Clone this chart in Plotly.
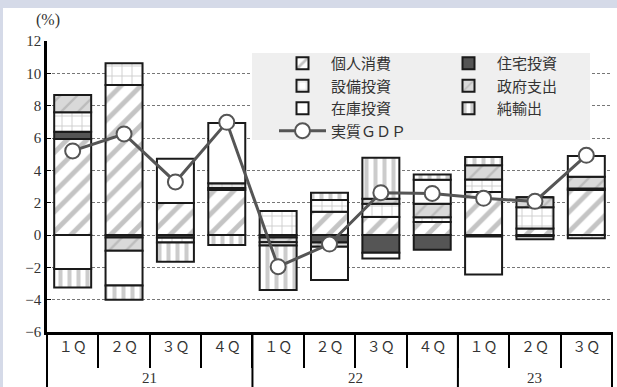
import plotly.graph_objects as go

# ---- data ----
years = ["21", "21", "21", "21", "22", "22", "22", "22", "23", "23", "23"]
quarters = ["１Ｑ", "２Ｑ", "３Ｑ", "４Ｑ", "１Ｑ", "２Ｑ", "３Ｑ", "４Ｑ", "１Ｑ", "２Ｑ", "３Ｑ"]
year_labels = ["21", "22", "23"]

consumption = [5.94, 9.28, 1.98, 2.78, 0.0, 1.44, 1.11, 0.80, 2.66, 0.40, 2.78]   # 個人消費
housing     = [0.45, -0.15, -0.17, 0.12, -0.15, -0.47, -1.10, -0.92, -0.10, -0.08, 0.10]  # 住宅投資
capex       = [1.20, 1.34, -0.30, 0.30, 1.48, 0.72, 0.83, 0.30, 0.78, 1.32, -0.20]  # 設備投資
government  = [1.07, -0.82, 0.0, 0.0, -0.30, -0.25, 0.31, 0.83, 0.87, 0.62, 0.72]   # 政府支出
inventory   = [-2.10, -2.16, 2.74, 3.73, -0.20, -2.06, -0.36, 1.48, -2.35, -0.19, 1.28]  # 在庫投資
net_exports = [-1.15, -0.87, -1.18, -0.62, -2.75, 0.45, 2.53, 0.33, 0.52, 0.0, 0.0]  # 純輸出
real_gdp    = [5.20, 6.25, 3.28, 6.97, -1.96, -0.56, 2.62, 2.57, 2.27, 2.08, 4.93]  # 実質GDP

# unique category keys (year + quarter); shown as quarter labels on the axis
x = [f"{y}-{q}" for y, q in zip(years, quarters)]
n = len(x)

OUT = "#1a1a1a"
fig = go.Figure()

def add_bar(name, vals, bg, shape, fg, size, solidity, legend):
    fig.add_trace(go.Bar(
        x=x, y=vals, name=name, legend=legend,
        marker=dict(color=bg, line=dict(color=OUT, width=2),
                    pattern=dict(shape=shape, fgcolor=fg, bgcolor=bg,
                                 size=size, solidity=solidity)),
        hoverinfo="skip",
    ))

add_bar("個人消費", consumption, "#ffffff", "/", "#8a8a8a", 14, 0.35, "legend")
add_bar("住宅投資", housing, "#555555", "", "#555555", 8, 0.3, "legend2")
add_bar("設備投資", capex, "#ffffff", "+", "#8a8a8a", 10, 0.15, "legend")
add_bar("政府支出", government, "#d9d9d9", "/", "#a0a0a0", 12, 0.2, "legend2")
add_bar("在庫投資", inventory, "#ffffff", "", "#ffffff", 8, 0.3, "legend")
add_bar("純輸出", net_exports, "#ffffff", "|", "#9a9a9a", 9, 0.45, "legend2")

fig.add_trace(go.Scatter(
    x=x, y=real_gdp, name="実質ＧＤＰ", legend="legend",
    mode="lines+markers",
    line=dict(color="#555555", width=3),
    marker=dict(size=15, color="white", line=dict(color="#555555", width=2)),
    hoverinfo="skip",
))

L, R, T, B = 47, 5, 41, 55
W, H = 617, 387
pw, ph = W - L - R, H - T - B

def px(p):
    return (p - L) / pw

def py(p):
    return (H - B - p) / ph

leg_font = dict(family="Noto Sans CJK JP", size=15, color="#333333")
num_font = dict(family="Liberation Serif, Noto Sans CJK JP", size=15, color="#333333")

# year group boundaries / centres (paper coords from category indices)
bounds = [0]
centres = []
for yl in year_labels:
    idx = [i for i, y in enumerate(years) if y == yl]
    centres.append((idx[0] + idx[-1] + 1) / 2 / n)
    bounds.append((idx[-1] + 1) / n)

shapes = [
    dict(type="rect", xref="paper", yref="paper", layer="below",
         x0=px(3), x1=px(625), y0=py(395), y1=py(8),
         fillcolor="white", line=dict(width=0)),
    dict(type="rect", xref="paper", yref="paper", layer="above",
         x0=px(252), x1=px(590), y0=py(140), y1=py(53),
         fillcolor="#efefef", line=dict(width=0)),
]
for b in bounds:
    shapes.append(dict(type="line", xref="paper", yref="paper",
                       x0=b, x1=b, y0=0, y1=py(392),
                       line=dict(color="black", width=2)))

annotations = [
    dict(text="(%)", xref="paper", yref="paper", x=px(48), y=py(20),
         xanchor="center", yanchor="middle", showarrow=False,
         font=dict(family="Liberation Serif", size=16, color="#333333")),
]
for c, yl in zip(centres, year_labels):
    annotations.append(dict(text=yl, xref="paper", yref="paper", x=c, y=py(378),
                            xanchor="center", yanchor="middle", showarrow=False,
                            font=num_font))

fig.update_layout(
    width=W, height=H,
    margin=dict(l=L, r=R, t=T, b=B),
    paper_bgcolor="#d5dae8",
    plot_bgcolor="rgba(0,0,0,0)",
    barmode="relative",
    bargap=0.28,
    showlegend=True,
    legend=dict(x=px(274), y=py(47), xanchor="left", yanchor="top",
                bgcolor="rgba(0,0,0,0)", font=leg_font, itemwidth=47,
                tracegroupgap=0),
    legend2=dict(x=px(440), y=py(47), xanchor="left", yanchor="top",
                 bgcolor="rgba(0,0,0,0)", font=leg_font, itemwidth=47,
                 tracegroupgap=0),
    xaxis=dict(
        type="category",
        range=[-0.5, n - 0.5],
        tickvals=x, ticktext=quarters,
        showline=True, linecolor="black", linewidth=2.5,
        ticks="outside", tickson="boundaries", ticklen=33, tickwidth=2,
        tickcolor="black",
        tickfont=dict(family="Noto Sans CJK JP", size=14, color="#333333"),
        showgrid=False,
    ),
    yaxis=dict(
        range=[-6, 12], dtick=2, tick0=0,
        showgrid=True, gridcolor="#777777", gridwidth=1, griddash="3px,2px",
        zeroline=False,
        showline=True, linecolor="black", linewidth=2.5,
        ticks="inside", ticklen=4, tickcolor="black",
        tickfont=num_font,
    ),
    shapes=shapes,
    annotations=annotations,
)

fig.write_html("out.html",
               config={"displayModeBar": False},
               post_script="document.body.style.margin='0';document.body.style.padding='0';")
